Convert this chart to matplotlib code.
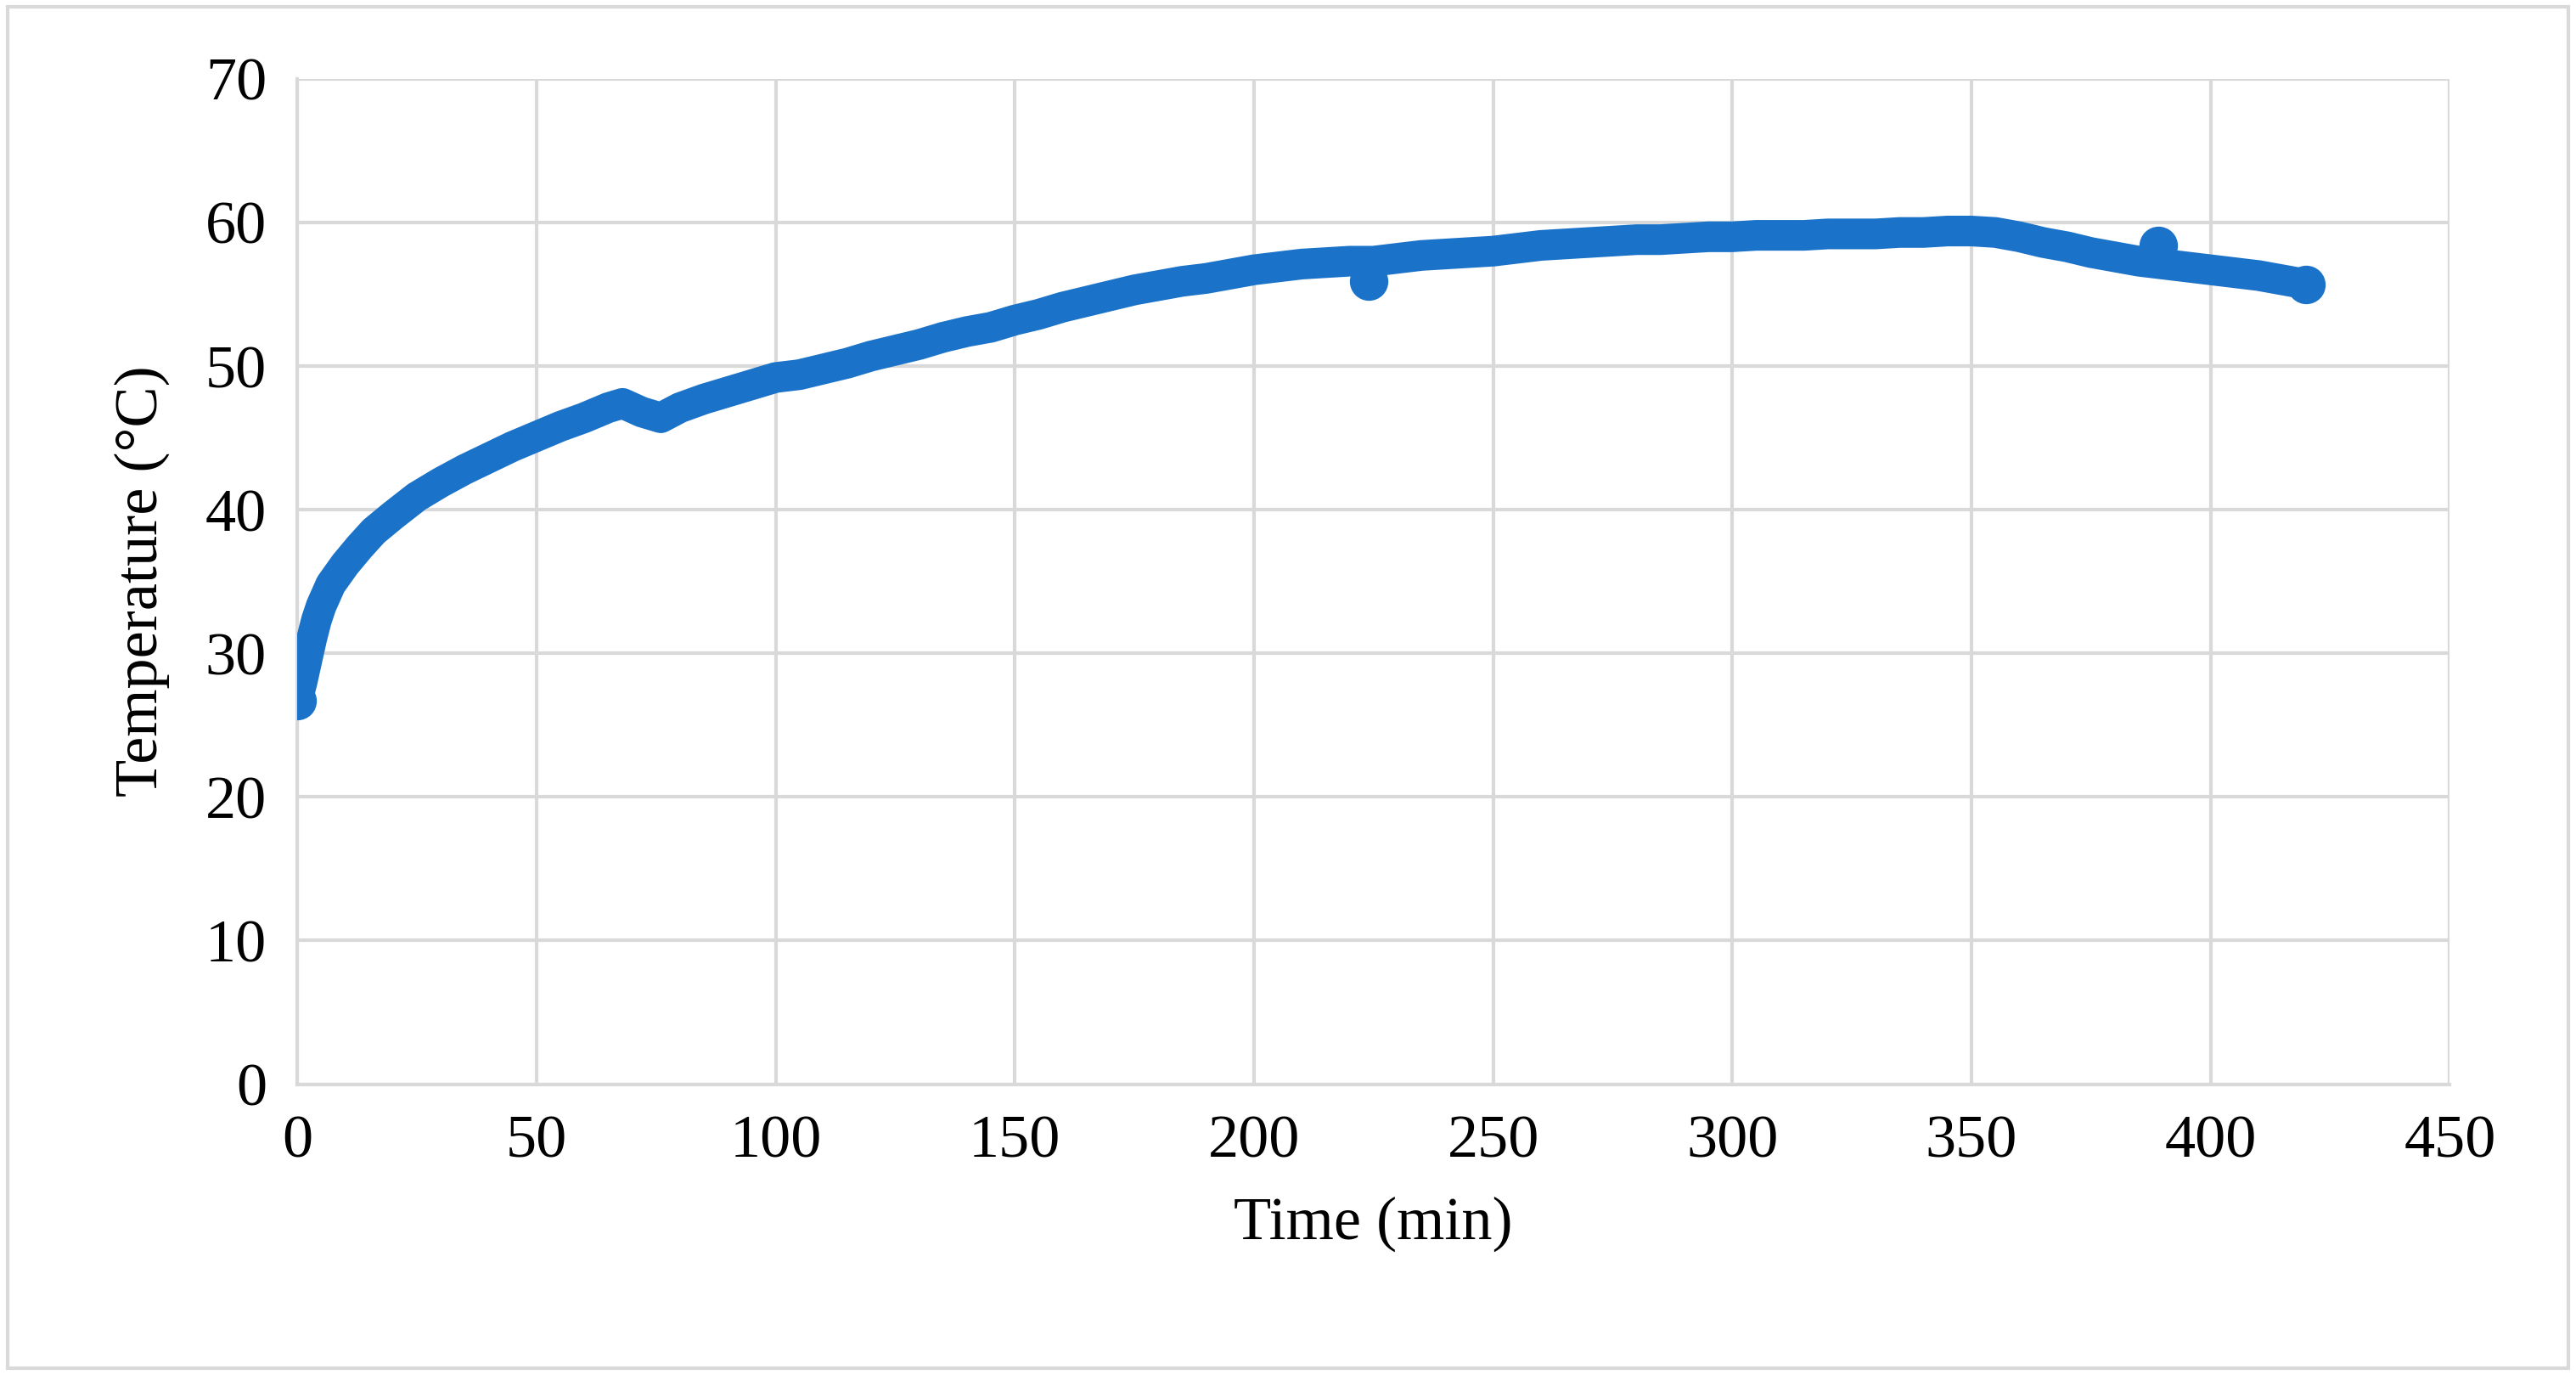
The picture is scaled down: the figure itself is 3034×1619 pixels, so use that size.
import matplotlib
matplotlib.use("Agg")
import matplotlib.pyplot as plt
from matplotlib.patches import Rectangle

# main series
time_min = [0, 1, 2, 3, 4, 5, 7, 10, 13, 16, 20, 25, 30, 35, 40, 45, 50, 55, 60, 65,
            68, 72, 76, 80, 85, 90, 95, 100, 105, 110, 115, 120, 125, 130, 135, 140,
            145, 150, 155, 160, 165, 170, 175, 180, 185, 190, 195, 200, 205, 210, 215,
            220, 225, 230, 235, 240, 245, 250, 255, 260, 265, 270, 275, 280, 285, 290,
            295, 300, 305, 310, 315, 320, 325, 330, 335, 340, 345, 350, 355, 360, 365,
            370, 375, 380, 385, 390, 395, 400, 405, 410, 415, 420]
temp_c = [26.7, 28.0, 29.5, 31.0, 32.3, 33.3, 34.8, 36.2, 37.4, 38.5, 39.6, 40.9, 41.9,
          42.8, 43.6, 44.4, 45.1, 45.8, 46.4, 47.1, 47.4, 46.8, 46.4, 47.1, 47.7, 48.2,
          48.7, 49.2, 49.4, 49.8, 50.2, 50.7, 51.1, 51.5, 52.0, 52.4, 52.7, 53.2, 53.6,
          54.1, 54.5, 54.9, 55.3, 55.6, 55.9, 56.1, 56.4, 56.7, 56.9, 57.1, 57.2, 57.3,
          57.3, 57.5, 57.7, 57.8, 57.9, 58.0, 58.2, 58.4, 58.5, 58.6, 58.7, 58.8, 58.8,
          58.9, 59.0, 59.0, 59.1, 59.1, 59.1, 59.2, 59.2, 59.2, 59.3, 59.3, 59.4, 59.4,
          59.3, 59.0, 58.6, 58.3, 57.9, 57.6, 57.3, 57.1, 56.9, 56.7, 56.5, 56.3, 56.0,
          55.7]
# the two stray readings
odd_time = [224, 389]
odd_temp = [55.9, 58.4]

x_ticks = list(range(0, 451, 50))
y_ticks = list(range(0, 71, 10))

blue = "#1B72C9"
plt.rcParams["font.family"] = ["Liberation Serif", "DejaVu Serif"]

fig = plt.figure(figsize=(30.34, 16.19), dpi=100)
ax = fig.add_axes([0.1154, 0.2115, 0.8356, 0.7312])

ax.plot(time_min, temp_c, color=blue, linewidth=26, solid_capstyle="round",
        solid_joinstyle="round", zorder=3)
ax.scatter(odd_time + [time_min[0], time_min[-1]], odd_temp + [temp_c[0], temp_c[-1]],
           s=1000, color=blue, zorder=4)

ax.set_xlim(0, 450)
ax.set_ylim(0, 70)
ax.set_xticks(x_ticks)
ax.set_yticks(y_ticks)
ax.grid(True, color="#D9D9D9", linewidth=3)
ax.set_axisbelow(True)
for side in ["top", "right"]:
    ax.spines[side].set_visible(False)
for side in ["left", "bottom"]:
    ax.spines[side].set_color("#D9D9D9")
    ax.spines[side].set_linewidth(3)
ax.tick_params(length=0, labelsize=52, pad=26, colors="black")
ax.set_xlabel("Time (min)", fontsize=52, labelpad=22)
ax.set_ylabel("Temperature (°C)", fontsize=52, labelpad=30)

fig.patches.append(Rectangle((0.003, 0.005), 0.994, 0.99, transform=fig.transFigure,
                             fill=False, edgecolor="#D9D9D9", linewidth=3))

fig.savefig("out.png", dpi=100)
